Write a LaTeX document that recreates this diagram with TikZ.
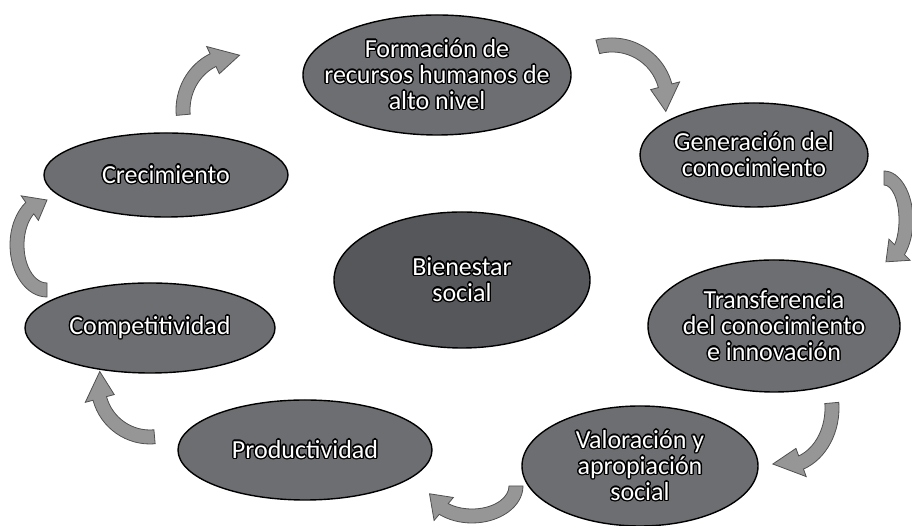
\documentclass[tikz,border=0pt]{standalone}
\usepackage{fontspec}
\setmainfont{Carlito}
\usepackage{xcolor}
\usepackage{contour}
\usetikzlibrary{shapes,positioning}

\definecolor{stagegray}{RGB}{109,110,113}
\definecolor{coregray}{RGB}{86,87,90}
\definecolor{arrowgray}{RGB}{150,150,150}
\definecolor{arrowedge}{RGB}{80,80,80}
\contourlength{1.3pt}
\newcommand{\olt}[1]{\contour{black}{#1}}

% curved block arrow: centre x, centre y, x radius, y radius, start, end, tip angle
\newcommand{\cyclearrow}[7]{%
  \pgfmathsetmacro{\rxo}{#3+7}\pgfmathsetmacro{\ryo}{#4+7}%
  \pgfmathsetmacro{\rxi}{#3-7}\pgfmathsetmacro{\ryi}{#4-7}%
  \pgfmathsetmacro{\rxh}{#3+15}\pgfmathsetmacro{\ryh}{#4+15}%
  \pgfmathsetmacro{\rxj}{#3-15}\pgfmathsetmacro{\ryj}{#4-15}%
  \filldraw[cyclearrow]
    ([shift={(#1,#2)}]xyz polar cs:angle=#5,x radius=\rxo,y radius=\ryo)
    arc[start angle=#5,end angle=#6,x radius=\rxo,y radius=\ryo]
    -- ([shift={(#1,#2)}]xyz polar cs:angle=#6,x radius=\rxh,y radius=\ryh)
    -- ([shift={(#1,#2)}]xyz polar cs:angle=#7,x radius=#3,y radius=#4)
    -- ([shift={(#1,#2)}]xyz polar cs:angle=#6,x radius=\rxj,y radius=\ryj)
    -- ([shift={(#1,#2)}]xyz polar cs:angle=#6,x radius=\rxi,y radius=\ryi)
    arc[start angle=#6,end angle=#5,x radius=\rxi,y radius=\ryi] -- cycle;}

\begin{document}
\begin{tikzpicture}
  [x=1pt,y=1pt,
   stage/.style={ellipse,draw=black,line width=1.4pt,fill=stagegray,inner sep=0pt},
   stagetext/.style={text=white,align=center,font=\fontsize{26}{26}\selectfont},
   cyclearrow/.style={fill=arrowgray,draw=arrowedge,line width=0.8pt}]
  \useasboundingbox (0,0) rectangle (912,526);

  \node[stage,minimum width=268,minimum height=120,
    label={[stagetext]center:{\olt{Formación de}\\\olt{recursos humanos de}\\\olt{alto nivel}}}]
    (formacion) at (437,451) {};
  \node[stage,minimum width=228,minimum height=104,
    label={[stagetext]center:{\olt{Generación del}\\\olt{conocimiento}}}]
    (generacion) at (754,371) {};
  \node[stage,minimum width=252,minimum height=132,
    label={[stagetext]center:{\olt{Transferencia}\\\olt{del conocimiento}\\\olt{e innovación}}}]
    (transferencia) at (774,200) {};
  \node[stage,minimum width=236,minimum height=120,
    label={[stagetext]center:{\olt{Valoración y}\\\olt{apropiación}\\\olt{social}}}]
    (valoracion) at (640,60) {};
  \node[stage,minimum width=254,minimum height=100,
    label={[stagetext]center:{\olt{Productividad}}}]
    (productividad) at (305,76) {};
  \node[stage,minimum width=250,minimum height=90,
    label={[stagetext]center:{\olt{Competitividad}}}]
    (competitividad) at (150,198) {};
  \node[stage,minimum width=244,minimum height=84,
    label={[stagetext]center:{\olt{Crecimiento}}}]
    (crecimiento) at (166,351) {};
  \node[stage,fill=coregray,minimum width=256,minimum height=136,
    label={[stagetext]center:{\olt{Bienestar}\\\olt{social}}}]
    (bienestar) at (462,246) {};

  \foreach \cx/\cy/\rx/\ry/\a/\b/\t in {235/416/52/55/185/115/85,
      612/426/55/55/105/15/-12, 884/306/22/42/90/-45/-85,
      785/118/47/58/5/-70/-105, 472/40/44/30/0/-130/-165,
      150/141/52/52/275/195/165, 47/281/30/45/270/125/90}
    \cyclearrow{\cx}{\cy}{\rx}{\ry}{\a}{\b}{\t};

\end{tikzpicture}
\end{document}
